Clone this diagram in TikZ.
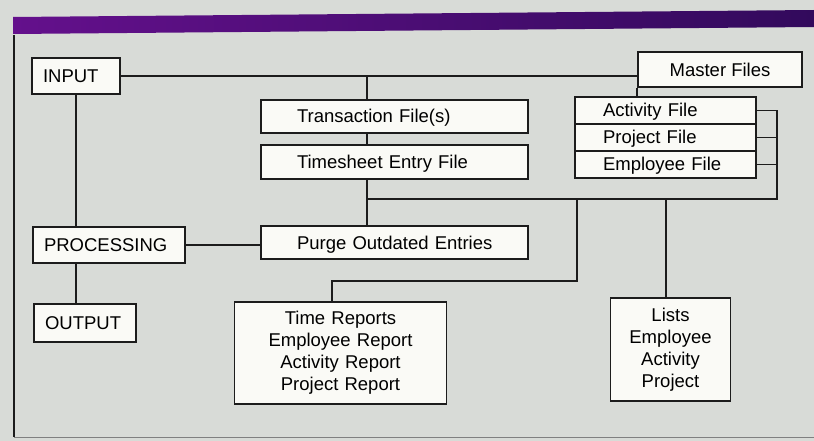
\documentclass[tikz,border=0pt]{standalone}
\usepackage{fontspec}
\setmainfont{Liberation Sans}
\usetikzlibrary{positioning}
\definecolor{bggray}{RGB}{216,219,215}
\definecolor{barpurple}{RGB}{100,16,140}
\definecolor{barindigo}{RGB}{50,10,92}
\definecolor{boxwhite}{RGB}{250,250,246}
\definecolor{inkline}{RGB}{28,28,28}
\tikzstyle{stage}=[rectangle,draw=inkline,fill=boxwhite,line width=1.6pt,inner xsep=11pt,align=left,text height=13pt,text depth=0pt,minimum height=36pt]
\tikzstyle{file}=[rectangle,draw=inkline,fill=boxwhite,line width=1.6pt,inner xsep=18pt,text width=231pt,align=left,execute at begin node=\hspace*{18pt},text height=13pt,text depth=0pt,minimum height=33pt]
\tikzstyle{master}=[rectangle,draw=inkline,fill=boxwhite,line width=1.6pt,inner xsep=28pt,text width=125pt,align=left,text height=13pt,text depth=0pt,minimum height=27pt]
\tikzstyle{report}=[rectangle,draw=inkline,fill=boxwhite,line width=1.6pt,align=center,minimum height=102pt]
\tikzstyle{link}=[draw=inkline,line width=1.6pt]
\begin{document}
\begin{tikzpicture}[x=1pt, y=-1pt, node distance=27pt, font=\fontsize{18.5}{22}\selectfont]
		\fill[bggray] (0,0) rectangle (814,441);
		\useasboundingbox (0,0) rectangle (814,441);
		\shade[left color=barpurple, right color=barindigo] (13,17) -- (814,10) -- (814,27) -- (13,34) -- cycle;
		\draw[inkline, line width=1.2pt] (14,35) -- (14,437);
		\draw[gray, line width=1pt] (14,437) -- (814,437);
		
		\node (in1) [stage, text width=66pt] at (76,76) {INPUT};
		\node (pro1) [stage, text width=130pt] at (109,245) {PROCESSING};
		\node (out1) [stage, text width=80pt, minimum height=38pt] at (85,323) {OUTPUT};
		\node (mas) [rectangle, draw=inkline, fill=boxwhite, line width=1.6pt, minimum width=164pt, minimum height=35pt] at (720,69.5) {Master Files};
		\node (fil1) [file] at (394.5,116.5) {Transaction File(s)};
		\node (fil2) [file, minimum height=34pt] at (394.5,162) {Timesheet Entry File};
		\node (pur) [file] at (394.5,242.5) {Purge Outdated Entries};
		\node (act) [master] at (665.5,110.5) {Activity File};
		\node (prj) [master, below of=act] {Project File};
		\node (emp) [master, below of=prj] {Employee File};
		\node (rep) [report, text width=205pt] at (340.5,353) {Time Reports\\Employee Report\\Activity Report\\Project Report};
		\node (lst) [report, text width=113pt, minimum height=103pt] at (670.5,349.5) {Lists\\Employee\\Activity\\Project};
		
		\coordinate (trk) at (367,76);
		\coordinate (bus) at (777,199);
		\coordinate (drp) at (577,281);
		\coordinate (rpt) at (332,281);
		\coordinate (lsx) at (666,0);
		
		\draw[link] (in1.east) -- (in1.east -| mas.west);
		\draw[link] (trk) -- (trk |- fil1.north);
		\draw[link] (trk |- fil1.south) -- (trk |- fil2.north);
		\draw[link] (trk |- fil2.south) -- (trk |- pur.north);
		\draw[link] (mas.south west) -- (mas.south west |- act.north);
		\draw[link] (act.east) -| (bus) -- (bus -| trk);
		\draw[link] (prj.east) -- (prj.east -| bus);
		\draw[link] (emp.east) -- (emp.east -| bus);
		\draw[link] (bus -| drp) -- (drp) -- (rpt) -- (rpt |- rep.north);
		\draw[link] (bus -| lsx) -- (lsx |- lst.north);
		\draw[link] (in1.south) -- (in1.south |- pro1.north);
		\draw[link] (in1.south |- pro1.south) -- (in1.south |- out1.north);
		\draw[link] (pro1.east) -- (pro1.east -| pur.west);
		
		\end{tikzpicture}
\end{document}
